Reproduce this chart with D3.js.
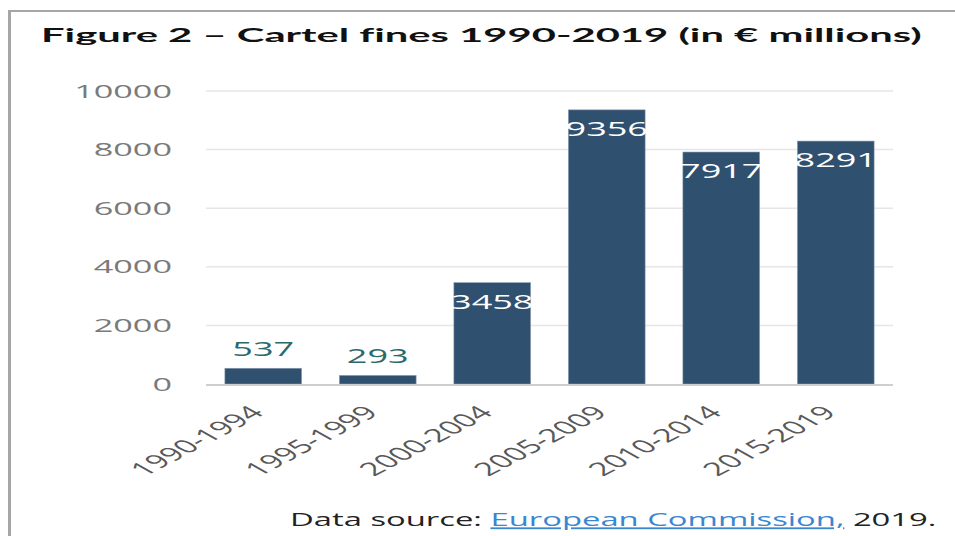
<!DOCTYPE html>
<html>
<head>
<meta charset="utf-8">
<script src="https://cdn.jsdelivr.net/npm/d3@7"></script>
<style>
  html, body { margin: 0; padding: 0; background: #fff; }
  svg { display: block; }
  text { font-variant-ligatures: none; }
</style>
</head>
<body>
<svg id="chart" width="955" height="536"></svg>
<script>
// ---- data ----
const categories = ["1990-1994", "1995-1999", "2000-2004", "2005-2009", "2010-2014", "2015-2019"];
const fines = [537, 293, 3458, 9356, 7917, 8291];
const yTicks = [0, 2000, 4000, 6000, 8000, 10000];
const titleText = "Figure 2 \u2013 Cartel fines 1990-2019 (in \u20ac millions)";
const sourcePrefix = "Data source: ";
const sourceLink = "European Commission,";
const sourceSuffix = " 2019.";

// ---- layout ----
const W = 955, H = 536;
const SX = 1.85; // horizontal stretch of the reference image
const plot = { left: 206, right: 893, top: 91, bottom: 384 };
const barColor = "#30506f";
const font = "'Open Sans', 'Noto Sans', sans-serif";

const svg = d3.select("#chart");

// frame
svg.append("line").attr("x1", 9.5).attr("x2", 9.5).attr("y1", 10).attr("y2", H)
  .attr("stroke", "#a6a6a6").attr("stroke-width", 3);
svg.append("line").attr("x1", 8).attr("x2", W).attr("y1", 11).attr("y2", 11)
  .attr("stroke", "#a6a6a6").attr("stroke-width", 2);

const x = d3.scaleBand().domain(categories).range([plot.left, plot.right]).paddingInner(0.33).paddingOuter(0.165);
const y = d3.scaleLinear().domain([0, 10000]).range([plot.bottom, plot.top]);

// gridlines
svg.append("g").selectAll("line").data(yTicks.filter(d => d > 0)).join("line")
  .attr("x1", plot.left).attr("x2", plot.right)
  .attr("y1", d => y(d)).attr("y2", d => y(d))
  .attr("stroke", "#e6e6e6").attr("stroke-width", 1.5);

// y tick labels
svg.append("g").selectAll("text").data(yTicks).join("text")
  .attr("transform", d => `translate(172,${y(d)}) scale(${SX},1)`)
  .attr("text-anchor", "end").attr("dy", "0.36em")
  .attr("font-family", font).attr("font-size", 18.5)
  .attr("fill", "#7a7a7a")
  .text(d => d);

// bars
svg.append("g").selectAll("rect").data(fines).join("rect")
  .attr("x", (d, i) => x(categories[i]))
  .attr("width", x.bandwidth())
  .attr("y", d => y(d))
  .attr("height", d => y(0) - y(d))
  .attr("fill", barColor)
  .attr("stroke", "#8a9bb0").attr("stroke-width", 0.6);

// baseline
svg.append("line").attr("x1", plot.left).attr("x2", plot.right)
  .attr("y1", y(0) + 1).attr("y2", y(0) + 1)
  .attr("stroke", "#cfcfcf").attr("stroke-width", 2);

// value labels
svg.append("g").selectAll("text").data(fines).join("text")
  .attr("transform", (d, i) => {
    const cx = x(categories[i]) + x.bandwidth() / 2;
    const inside = d > 2000;
    const yy = inside ? y(d) + 26 : y(d) - 12.5;
    return `translate(${cx},${yy}) scale(${SX},1)`;
  })
  .attr("text-anchor", "middle")
  .attr("font-family", font).attr("font-size", 19.5)
  .attr("fill", d => d > 2000 ? "#ffffff" : "#2b6a6c")
  .text(d => d);

// x category labels (rotated)
svg.append("g").selectAll("text").data(categories).join("text")
  .attr("transform", d => `translate(${x(d) + x.bandwidth() / 2 + 2},${plot.bottom + 30}) scale(${SX},1) rotate(-44)`)
  .attr("text-anchor", "end")
  .attr("font-family", font).attr("font-size", 18.5)
  .attr("fill", "#595959")
  .text(d => d);

// title
const title = svg.append("text")
  .attr("x", 0).attr("y", 0)
  .attr("font-family", "Lato, 'Open Sans', sans-serif").attr("font-weight", 700)
  .attr("font-size", 19.5).attr("fill", "#111")
  .text(titleText);
{
  const len = title.node().getComputedTextLength();
  title.attr("transform", `translate(41,42) scale(${881 / len},1)`);
}

// source note
const src = svg.append("text")
  .attr("font-family", font).attr("font-size", 18).attr("fill", "#222");
src.append("tspan").text(sourcePrefix);
src.append("tspan").attr("fill", "#3a86d0").attr("text-decoration", "underline").text(sourceLink);
src.append("tspan").text(sourceSuffix);
{
  const len = src.node().getComputedTextLength();
  src.attr("transform", `translate(290,526) scale(${647 / len},1)`);
}
</script>
</body>
</html>
